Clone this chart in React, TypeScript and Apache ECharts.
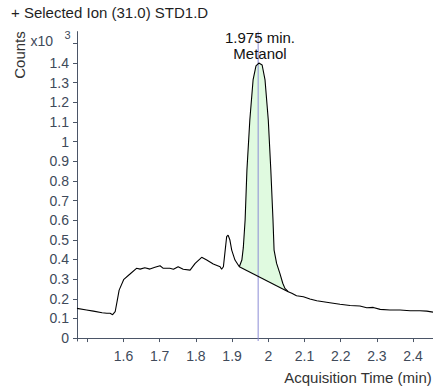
import React, { useEffect, useRef } from "react";
import * as echarts from "echarts";

const FONT = "'Liberation Sans', Arial, sans-serif";

// Chromatogram trace (time in min, counts x10^3)
const times = [
  1.4716, 1.498, 1.517, 1.541, 1.554, 1.563, 1.570, 1.577, 1.583, 1.588,
  1.601, 1.618, 1.636, 1.646, 1.659, 1.673, 1.687, 1.701, 1.710, 1.728,
  1.738, 1.751, 1.765, 1.784, 1.798, 1.816, 1.830, 1.848, 1.867, 1.871,
  1.876, 1.880, 1.885, 1.889, 1.894, 1.899, 1.908, 1.920, 1.927, 1.931,
  1.936, 1.941, 1.949, 1.958, 1.966, 1.974, 1.983, 1.991, 2.000, 2.007,
  2.013, 2.016, 2.023, 2.032, 2.040, 2.046, 2.055, 2.065, 2.078, 2.097,
  2.115, 2.134, 2.152, 2.170, 2.198, 2.226, 2.253, 2.272, 2.290, 2.309,
  2.336, 2.364, 2.392, 2.419, 2.438, 2.455,
];
const counts = [
  0.151, 0.143, 0.137, 0.129, 0.126, 0.126, 0.119, 0.134, 0.193, 0.244,
  0.299, 0.326, 0.355, 0.351, 0.358, 0.351, 0.360, 0.368, 0.355, 0.355,
  0.350, 0.363, 0.350, 0.346, 0.380, 0.411, 0.397, 0.377, 0.363, 0.350,
  0.363, 0.431, 0.516, 0.524, 0.499, 0.448, 0.397, 0.363, 0.397, 0.460,
  0.601, 0.855, 1.110, 1.314, 1.385, 1.400, 1.390, 1.314, 1.110, 0.855,
  0.601, 0.448, 0.380, 0.329, 0.279, 0.253, 0.236, 0.228, 0.215, 0.210,
  0.199, 0.190, 0.185, 0.180, 0.172, 0.166, 0.163, 0.154, 0.156, 0.146,
  0.143, 0.143, 0.139, 0.139, 0.137, 0.132,
];

// Integrated peak: start/end times of the baseline
const peakStart = 1.920;
const peakEnd = 2.055;
const peakRT = 1.972;
const peakLabel = ["1.975 min.", "Metanol"];

const xTicks = [1.5, 1.6, 1.7, 1.8, 1.9, 2.0, 2.1, 2.2, 2.3, 2.4];
const xLabels = [1.6, 1.7, 1.8, 1.9, 2.0, 2.1, 2.2, 2.3, 2.4];
const yTicks = [0, 0.1, 0.2, 0.3, 0.4, 0.5, 0.6, 0.7, 0.8, 0.9, 1, 1.1, 1.2, 1.3, 1.4, 1.5];
const yLabels = [0, 0.1, 0.2, 0.3, 0.4, 0.5, 0.6, 0.7, 0.8, 0.9, 1, 1.1, 1.2, 1.3, 1.4];

const X_MIN = 1.4716;
const X_MAX = 2.455;
const Y_MIN = -0.015;
const Y_MAX = 1.56;

export default function App() {
  const ref = useRef<HTMLDivElement>(null);
  useEffect(() => {
    if (!ref.current) return;
    const chart = echarts.init(ref.current, null, { renderer: "svg" });
    const trace = times.map((t, i) => [t, counts[i]]);
    const iS = times.indexOf(peakStart);
    const iE = times.indexOf(peakEnd);
    const peakPts = trace.slice(iS, iE + 1);
    const baseline = [trace[iS], trace[iE]];
    const axisColor = "#4b5567";
    const labelColor = "#404a5a";

    chart.setOption({
      animation: false,
      grid: { left: 77, right: 0, top: 31.6, bottom: 47, containLabel: false },
      xAxis: {
        type: "value",
        min: X_MIN,
        max: X_MAX,
        splitLine: { show: false },
        axisLine: { show: true, lineStyle: { color: axisColor, width: 1 } },
        axisTick: { show: true, length: 4, customValues: xTicks, lineStyle: { color: axisColor } },
        axisLabel: {
          customValues: xLabels,
          margin: 8,
          fontSize: 14,
          fontFamily: FONT,
          color: labelColor,
          formatter: (v: number) => (Math.abs(v - 2) < 1e-9 ? "2" : String(v)),
        },
      },
      yAxis: {
        type: "value",
        min: Y_MIN,
        max: Y_MAX,
        splitLine: { show: false },
        axisLine: { show: true, lineStyle: { color: axisColor, width: 1 } },
        axisTick: { show: true, length: 4, customValues: yTicks, lineStyle: { color: axisColor } },
        axisLabel: {
          customValues: yLabels,
          margin: 8,
          fontSize: 14,
          fontFamily: FONT,
          color: labelColor,
          formatter: (v: number) => String(v),
        },
      },
      series: [
        {
          type: "custom",
          silent: true,
          z: 1,
          data: [[0]],
          renderItem: (_params: any, api: any) => {
            const pts = peakPts.map((p) => api.coord(p));
            return {
              type: "polygon",
              shape: { points: pts },
              style: { fill: "rgb(224,250,224)", stroke: "none" },
            };
          },
        },
        {
          type: "line",
          z: 2,
          data: [
            [peakRT, Y_MIN],
            [peakRT, Y_MAX],
          ],
          symbol: "none",
          lineStyle: { color: "#8c8cd6", width: 1 },
        },
        {
          type: "line",
          z: 3,
          data: baseline,
          symbol: "none",
          lineStyle: { color: "#000", width: 1.1 },
        },
        {
          type: "line",
          z: 4,
          data: trace,
          symbol: "none",
          lineStyle: { color: "#000", width: 1.1 },
        },
      ],
      graphic: [
        {
          type: "text",
          left: 11,
          top: 5,
          style: { text: "+ Selected Ion (31.0) STD1.D", font: `15px ${FONT}`, fill: "#1f1f1f" },
        },
        {
          type: "text",
          x: 19,
          y: 55,
          rotation: Math.PI / 2,
          style: {
            text: "Counts",
            font: `15px ${FONT}`,
            fill: "#333",
            align: "center",
            verticalAlign: "middle",
          },
        },
        {
          type: "text",
          x: 53,
          y: 41,
          style: { text: "x10", font: `14px ${FONT}`, fill: labelColor, align: "right", verticalAlign: "middle" },
        },
        {
          type: "text",
          x: 67.5,
          y: 35,
          style: { text: "3", font: `11px ${FONT}`, fill: labelColor, align: "center", verticalAlign: "middle" },
        },
        {
          type: "text",
          x: 260,
          y: 37,
          z: 10,
          style: { text: peakLabel[0], font: `15px ${FONT}`, fill: "#111", align: "center", verticalAlign: "middle" },
        },
        {
          type: "text",
          x: 260,
          y: 53,
          z: 10,
          style: { text: peakLabel[1], font: `15px ${FONT}`, fill: "#111", align: "center", verticalAlign: "middle" },
        },
        {
          type: "text",
          right: 1,
          top: 370,
          style: { text: "Acquisition Time (min)", font: `15px ${FONT}`, fill: "#333" },
        },
      ],
    });
    return () => chart.dispose();
  }, []);
  return (
    <div
      ref={ref}
      style={{ position: "absolute", left: 0, top: 0, width: 433, height: 388 }}
    />
  );
}
